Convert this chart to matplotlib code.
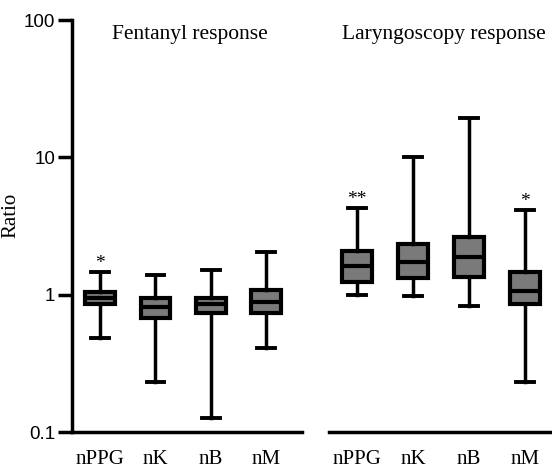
import numpy as np
import matplotlib
matplotlib.use('Agg')
from matplotlib import pyplot as plt

groups = ['nPPG', 'nK', 'nB', 'nM']

# five-number summaries: low whisker, q1, median, q3, high whisker
fent_low = [0.48, 0.23, 0.127, 0.41]
fent_q1 = [0.85, 0.68, 0.74, 0.74]
fent_med = [0.95, 0.82, 0.85, 0.89]
fent_q3 = [1.05, 0.95, 0.95, 1.09]
fent_high = [1.47, 1.40, 1.52, 2.06]

lar_low = [1.0, 0.98, 0.83, 0.23]
lar_q1 = [1.24, 1.33, 1.35, 0.85]
lar_med = [1.62, 1.74, 1.89, 1.07]
lar_q3 = [2.09, 2.35, 2.64, 1.47]
lar_high = [4.3, 10.1, 19.4, 4.15]

fent_marks = ['*', '', '', '']
lar_marks = ['**', '', '', '*']


def stats(low, q1, med, q3, high):
    out = []
    for i in range(len(low)):
        out.append({'whislo': low[i], 'q1': q1[i], 'med': med[i],
                    'q3': q3[i], 'whishi': high[i], 'fliers': []})
    return out


fig = plt.figure(figsize=(5.52, 4.73), dpi=100)
W, H = 552.0, 473.0
ax1 = fig.add_axes([72/W, 41/H, 230/W, 412/H])
ax2 = fig.add_axes([329/W, 41/H, 223/W, 412/H], sharey=ax1)

serif = 'Liberation Serif'
sans = 'Liberation Sans'

boxprops = dict(facecolor='#7a7a7a', edgecolor='black', linewidth=3.0)
for ax, st, marks, xl in [
        (ax1, stats(fent_low, fent_q1, fent_med, fent_q3, fent_high),
         fent_marks, (0.49, 4.65)),
        (ax2, stats(lar_low, lar_q1, lar_med, lar_q3, lar_high),
         lar_marks, (0.5, 4.48))]:
    ax.bxp(st, positions=[1, 2, 3, 4], widths=0.54, patch_artist=True,
           boxprops=boxprops,
           medianprops=dict(color='black', linewidth=3.0),
           whiskerprops=dict(color='black', linewidth=2.5),
           capprops=dict(color='black', linewidth=2.8),
           capwidths=0.32, showfliers=False)
    ax.set_yscale('log')
    ax.set_xlim(*xl)
    ax.set_xticks([1, 2, 3, 4])
    ax.set_xticklabels(groups, family=serif, fontsize=15)
    ax.tick_params(axis='x', length=0, pad=13)
    for s in ['top', 'right']:
        ax.spines[s].set_visible(False)
    ax.spines['bottom'].set_linewidth(2.5)
    for i, m in enumerate(marks):
        if m:
            ax.text(i + 1, st[i]['whishi'] * 1.0, m, ha='center', va='bottom',
                    fontsize=14, family=serif)

ax1.set_ylim(0.1, 100)
ax1.set_yticks([0.1, 1, 10, 100])
ax1.set_yticklabels(['0.1', '1', '10', '100'], family=sans, fontsize=13.5)
ax1.yaxis.set_minor_locator(matplotlib.ticker.NullLocator())
ax1.tick_params(axis='y', length=10, width=2.5, pad=2)
ax1.spines['left'].set_linewidth(2.5)
ax1.set_ylabel('Ratio', family=serif, fontsize=15)
ax1.yaxis.set_label_coords(-0.226, 0.527)

ax2.spines['left'].set_visible(False)
ax2.tick_params(axis='y', left=False, labelleft=False)

fig.text(190/W, 1 - 34/H, 'Fentanyl response', ha='center', va='center',
         family=serif, fontsize=15.5)
fig.text(444/W, 1 - 34/H, 'Laryngoscopy response', ha='center', va='center',
         family=serif, fontsize=15.5)

fig.savefig('out.png', dpi=100)
